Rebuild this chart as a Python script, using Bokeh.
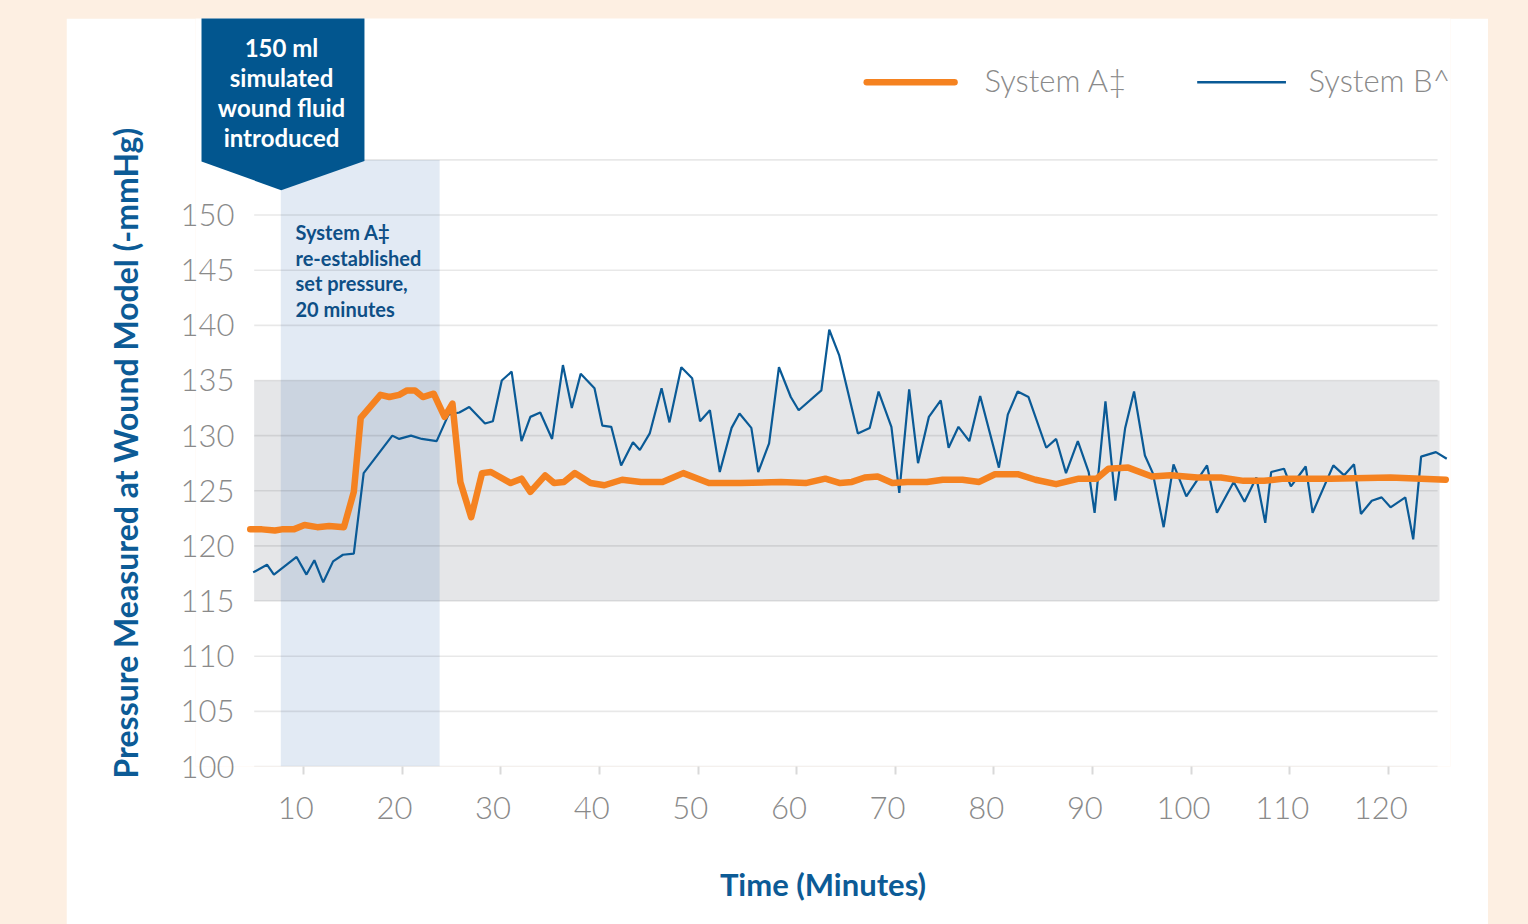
import math
from bokeh.plotting import figure
from bokeh.models import FixedTicker, Range1d, GlobalInlineStyleSheet, Title
from bokeh.core.properties import value
from bokeh.embed import file_html
from bokeh.resources import INLINE

# ---------------- data ----------------
blue_t = [4.9, 6.3, 7.0, 9.3, 10.3, 11.1, 12.0, 13.0, 14.0, 15.1, 16.1, 19.0, 19.7, 20.9, 22.0,
          23.5, 24.7, 25.8, 26.8, 28.4, 29.2, 30.1, 31.1, 32.1, 33.0, 34.0, 35.2, 36.3, 37.2,
          38.1, 39.5, 40.3, 41.2, 42.2, 43.4, 44.1, 45.1, 46.3, 47.1, 48.3, 49.4, 50.2, 51.2,
          52.2, 53.4, 54.2, 55.4, 56.1, 57.2, 58.2, 59.4, 60.2, 62.5, 63.3, 64.3, 66.2, 67.4,
          68.3, 69.6, 70.4, 71.4, 72.3, 73.4, 74.6, 75.4, 76.4, 77.5, 78.6, 80.5, 81.4, 82.4,
          83.5, 85.3, 86.3, 87.3, 88.5, 89.6, 90.2, 91.3, 92.3, 93.3, 94.2, 95.3, 96.1, 97.2,
          98.2, 99.5, 101.6, 102.6, 104.3, 105.4, 106.6, 107.5, 108.1, 109.4, 110.1, 111.6,
          112.3, 114.4, 115.5, 116.5, 117.2, 118.3, 119.3, 120.2, 121.7, 122.5, 123.3, 124.8, 125.9]
blue_v = [117.6, 118.3, 117.4, 119.0, 117.4, 118.7, 116.7, 118.6, 119.2, 119.3, 126.6, 130.0, 129.7,
          130.0, 129.7, 129.5, 131.9, 132.1, 132.6, 131.1, 131.3, 135.0, 135.8, 129.5, 131.7, 132.1,
          129.7, 136.4, 132.5, 135.6, 134.3, 130.9, 130.8, 127.3, 129.4, 128.7, 130.2, 134.3, 131.2,
          136.2, 135.2, 131.3, 132.3, 126.7, 130.7, 132.0, 130.7, 126.7, 129.3, 136.2, 133.5, 132.3,
          134.1, 139.6, 137.3, 130.2, 130.7, 134.0, 130.8, 124.8, 134.2, 127.5, 131.7, 133.2, 128.9,
          130.8, 129.5, 133.6, 127.1, 131.9, 134.0, 133.5, 128.9, 129.7, 126.6, 129.5, 126.7, 123.0,
          133.1, 124.1, 130.7, 134.0, 128.2, 126.6, 121.7, 127.4, 124.5, 127.3, 123.0, 125.8, 124.0,
          126.2, 122.1, 126.7, 127.0, 125.4, 127.2, 123.0, 127.3, 126.4, 127.4, 122.9, 124.1, 124.4,
          123.5, 124.4, 120.6, 128.1, 128.5, 127.9]

orange_t = [4.6, 5.8, 7.1, 7.8, 9.0, 10.1, 11.4, 12.6, 14.1, 15.1, 15.8, 17.8, 18.7, 19.7, 20.5,
            21.3, 22.1, 23.2, 24.3, 25.1, 25.9, 27.0, 28.1, 29.0, 31.0, 32.1, 33.0, 34.5, 35.4,
            36.4, 37.5, 39.1, 40.5, 42.3, 44.2, 46.4, 48.5, 51.1, 54.3, 58.4, 60.9, 62.9, 64.4,
            65.6, 66.9, 68.2, 69.7, 71.2, 73.2, 74.8, 76.8, 78.5, 80.1, 82.4, 84.2, 86.3, 88.6,
            90.4, 91.6, 93.6, 96.0, 97.9, 100.6, 103.0, 105.3, 107.4, 109.4, 114.1, 120.2, 125.8]
orange_v = [121.5, 121.5, 121.4, 121.5, 121.5, 121.9, 121.7, 121.8, 121.7, 124.9, 131.6, 133.7, 133.5,
            133.7, 134.1, 134.1, 133.5, 133.8, 131.7, 132.9, 125.8, 122.6, 126.6, 126.7, 125.7, 126.1,
            124.9, 126.4, 125.7, 125.8, 126.6, 125.7, 125.5, 126.0, 125.8, 125.8, 126.6, 125.7, 125.7,
            125.8, 125.7, 126.1, 125.7, 125.8, 126.2, 126.3, 125.7, 125.8, 125.8, 126.0, 126.0, 125.8,
            126.5, 126.5, 126.0, 125.6, 126.1, 126.1, 127.0, 127.1, 126.3, 126.4, 126.2, 126.2, 125.9,
            125.9, 126.1, 126.1, 126.2, 126.0]

x_ticks = [10, 20, 30, 40, 50, 60, 70, 80, 90, 100, 110, 120]
y_ticks = [100, 105, 110, 115, 120, 125, 130, 135, 140, 145, 150]
grid_levels = [100, 105, 110, 115, 120, 125, 130, 135, 140, 145, 150, 155]

target_band = (115, 135)          # grey target range
reestablish_window = (7.7, 23.8)  # light blue window (minutes)

series_names = ["System A\u2021", "System B^"]
callout_lines = ["150 ml", "simulated", "wound fluid", "introduced"]
note_lines = ["System A\u2021", "re-established", "set pressure,", "20 minutes"]
x_title = "Time (Minutes)"
y_title = "Pressure Measured at Wound Model (-mmHg)"

ORANGE = "#f58220"
BLUE = "#0a5a96"
DARK = "#02568f"
TITLE = "#0c5b96"
GREY_TXT = "#8a8a8a"
LIGHT = "Lato Light"

# ---------------- figure ----------------
css = GlobalInlineStyleSheet(css="""
html, body { background-color: #fdefe2; margin: 0; padding: 0; overflow: hidden; }
body { padding: 18px 0 0 66px; }
""")

p = figure(width=1422, height=906, output_backend="svg", toolbar_location=None,
           x_range=Range1d(-0.949, 126.28), y_range=Range1d(100, 167.82),
           min_border_left=129, min_border_right=38, min_border_top=0, min_border_bottom=158)
p.stylesheets = [css]
p.background_fill_color = "white"
p.border_fill_color = "white"
p.outline_line_color = None
p.xgrid.visible = False
p.ygrid.visible = False

# target band and window
p.quad(left=5, right=125.17, bottom=target_band[0], top=target_band[1],
       fill_color="#e5e6e8", line_color=None)
p.quad(left=reestablish_window[0], right=reestablish_window[1], bottom=100, top=155,
       fill_color="#1f5fa8", fill_alpha=0.13, line_color=None)

# horizontal grid lines
p.segment(x0=[5] * len(grid_levels), x1=[124.97] * len(grid_levels), y0=grid_levels, y1=grid_levels,
          line_color="black", line_alpha=0.09, line_width=1.6)

# callout box
p.patch(x=[-0.34, 16.18, 16.18, 7.74, -0.34], y=[168.5, 168.5, 154.9, 152.25, 154.86],
        fill_color=DARK, line_color=None)
p.text(x=[7.77] * 4, y=[165.15, 162.45, 159.75, 157.0], text=callout_lines,
       text_font=value("Lato"), text_font_style="bold", text_font_size="24px",
       text_color="white", text_align="center", text_baseline="alphabetic")

# note inside window
p.text(x=[9.19] * 4, y=[148.45, 146.1, 143.8, 141.45], text=note_lines,
       text_font=value("Lato"), text_font_style="bold", text_font_size="20px",
       text_color="#0e4f86", text_align="left", text_baseline="alphabetic")

# series
p.line(blue_t, blue_v, line_color=BLUE, line_width=2.2)
p.line(orange_t, orange_v, line_color=ORANGE, line_width=6.5, line_join="round", line_cap="round")

# legend (manual)
p.segment(x0=[67.1], x1=[76.0], y0=[162.04], y1=[162.04], line_color=ORANGE, line_width=6.5,
          line_cap="round")
p.segment(x0=[100.6], x1=[109.6], y0=[162.04], y1=[162.04], line_color=BLUE, line_width=2.5)
p.text(x=[79.04, 111.89], y=[162.2, 162.2], text=series_names,
       text_font=value(LIGHT), text_font_size="31px", text_color=GREY_TXT,
       text_align="left", text_baseline="alphabetic")

# axes
xa = p.xaxis[0]
xa.ticker = FixedTicker(ticks=x_ticks)
xa.major_label_overrides = {t: f"{t}\u2002" for t in x_ticks}
xa.axis_line_color = None
xa.major_tick_in = 0
xa.major_tick_out = 8
xa.major_tick_line_color = "#d9d9d9"
xa.major_tick_line_width = 2
xa.minor_tick_line_color = None
xa.major_label_text_font = LIGHT
xa.major_label_text_font_size = "31px"
xa.major_label_text_color = GREY_TXT
xa.major_label_standoff = 13
xa.axis_label = x_title
xa.axis_label_text_font = "Lato"
xa.axis_label_text_font_style = "bold"
xa.axis_label_text_font_size = "31px"
xa.axis_label_text_color = TITLE
xa.axis_label_standoff = 36

ya = p.yaxis[0]
ya.ticker = FixedTicker(ticks=y_ticks)
ya.axis_line_color = None
ya.major_tick_line_color = None
ya.minor_tick_line_color = None
ya.major_label_text_font = LIGHT
ya.major_label_text_font_size = "31px"
ya.major_label_text_color = GREY_TXT
ya.major_label_standoff = -45

ytitle = Title(text=y_title, align="left", offset=-12, standoff=66,
               text_font="Lato", text_font_style="bold", text_font_size="32px",
               text_color=TITLE)
p.add_layout(ytitle, "left")

open("out.html", "w").write(file_html(p, INLINE))
